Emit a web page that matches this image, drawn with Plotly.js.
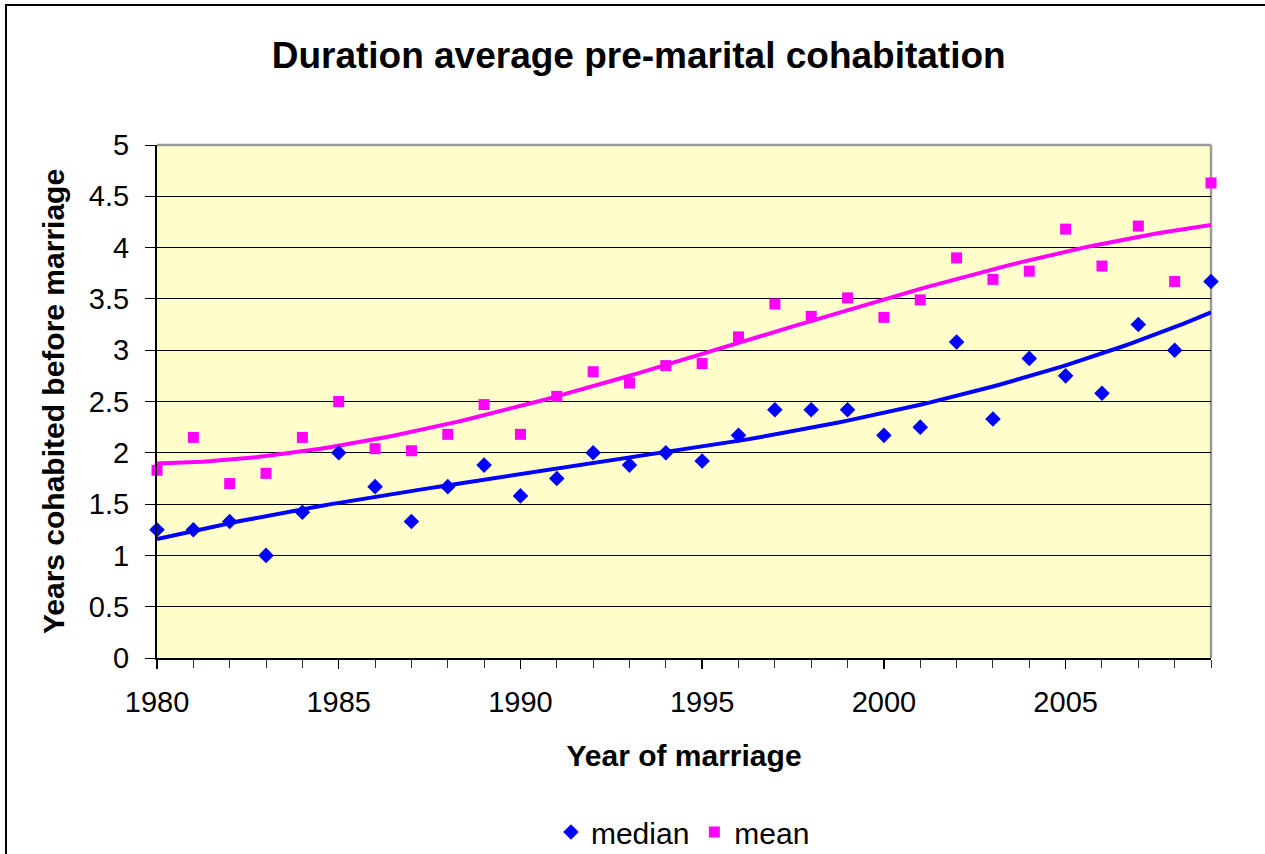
<!DOCTYPE html>
<html>
<head>
<meta charset="utf-8">
<script src="https://cdn.plot.ly/plotly-3.0.1.min.js"></script>
<style>
  html, body { margin: 0; padding: 0; background: #fff; overflow: hidden; }
  #wrap { position: relative; width: 1265px; height: 854px; }
  #chart { width: 1265px; height: 854px; }
  #frame { position: absolute; left: 5px; top: 4px; width: 1270px; height: 900px;
           border-left: 2px solid #000; border-top: 2px solid #000; pointer-events: none; }
</style>
</head>
<body>
<div id="wrap">
  <div id="chart"></div>
  <div id="frame"></div>
</div>
<script>
// ---- data ----
const years = [1980,1981,1982,1983,1984,1985,1986,1987,1988,1989,
               1990,1991,1992,1993,1994,1995,1996,1997,1998,1999,
               2000,2001,2002,2003,2004,2005,2006,2007,2008,2009];
const median = [1.25,1.25,1.33,1.00,1.42,2.00,1.67,1.33,1.67,1.88,
                1.58,1.75,2.00,1.88,2.00,1.92,2.17,2.42,2.42,2.42,
                2.17,2.25,3.08,2.33,2.92,2.75,2.58,3.25,3.00,3.67];
const mean = [1.83,2.15,1.70,1.80,2.15,2.50,2.04,2.02,2.18,2.47,
              2.18,2.55,2.79,2.68,2.85,2.87,3.13,3.45,3.33,3.51,
              3.32,3.49,3.90,3.69,3.77,4.18,3.82,4.21,3.67,4.63];
const seriesNames = ["median", "mean"];
const xTickLabels = ["1980","1985","1990","1995","2000","2005"];
const yTickLabels = ["0","0.5","1","1.5","2","2.5","3","3.5","4","4.5","5"];

// ---- polynomial (order 3) trendline, as in the spreadsheet chart ----
function polyfit(xs, ys, order) {
  const n = order + 1, x0 = xs[0];
  const A = [];
  for (let r = 0; r < n; r++) A.push(new Array(n + 1).fill(0));
  for (let i = 0; i < xs.length; i++) {
    const t = (xs[i] - x0) / 10;
    for (let r = 0; r < n; r++) {
      for (let c = 0; c < n; c++) A[r][c] += Math.pow(t, r + c);
      A[r][n] += Math.pow(t, r) * ys[i];
    }
  }
  for (let c = 0; c < n; c++) {
    for (let r = c + 1; r < n; r++) {
      const f = A[r][c] / A[c][c];
      for (let k = c; k <= n; k++) A[r][k] -= f * A[c][k];
    }
  }
  const b = new Array(n).fill(0);
  for (let r = n - 1; r >= 0; r--) {
    let s = A[r][n];
    for (let k = r + 1; k < n; k++) s -= A[r][k] * b[k];
    b[r] = s / A[r][r];
  }
  return x => { const t = (x - x0) / 10; let v = 0; for (let k = n - 1; k >= 0; k--) v = v * t + b[k]; return v; };
}
function trend(xs, ys) {
  const f = polyfit(xs, ys, 3);
  const tx = [], ty = [];
  for (let i = 0; i < xs.length - 1; i++) {
    for (let s = 0; s < 4; s++) { const t = xs[i] + s / 4; tx.push(t); ty.push(f(t)); }
  }
  tx.push(xs[xs.length - 1]); ty.push(f(xs[xs.length - 1]));
  return {x: tx, y: ty};
}

const blue = "#0000FF", pink = "#FF00FF";
const FONT = "Arial, 'Liberation Sans', sans-serif";
const tMed = trend(years, median), tMean = trend(years, mean);

const traces = [
  {x: tMed.x, y: tMed.y, mode: "lines", line: {color: blue, width: 4},
   showlegend: false, hoverinfo: "skip"},
  {x: tMean.x, y: tMean.y, mode: "lines", line: {color: pink, width: 4},
   showlegend: false, hoverinfo: "skip"},
  {x: years, y: median, name: seriesNames[0], mode: "markers", cliponaxis: false,
   marker: {symbol: "diamond", size: 12, color: blue}},
  {x: years, y: mean, name: seriesNames[1], mode: "markers", cliponaxis: false,
   marker: {symbol: "square", size: 11, color: pink}}
];

const layout = {
  width: 1265, height: 854,
  margin: {l: 157, r: 54, t: 145, b: 196, autoexpand: false},
  paper_bgcolor: "#FFFFFF",
  plot_bgcolor: "#FFFFCC",
  font: {family: FONT, color: "#000"},
  title: {text: "<b>Duration average pre-marital cohabitation</b>",
          font: {family: FONT, size: 37, color: "#000"},
          x: 0.457, xanchor: "center", xref: "paper",
          y: 1 - 55 / 854, yanchor: "middle", yref: "container"},
  xaxis: {
    range: [1980, 2009],
    automargin: false,
    tickmode: "array",
    tickvals: xTickLabels.map(Number),
    ticktext: xTickLabels,
    ticks: "outside", ticklen: 9, tickwidth: 1.5, tickcolor: "#000",
    minor: {dtick: 1, tick0: 1980, ticks: "outside", ticklen: 8, tickwidth: 1, tickcolor: "#333", showgrid: false},
    showgrid: false, zeroline: false,
    showline: true, linecolor: "#000", linewidth: 2,
    tickfont: {family: FONT, size: 29, color: "#000"},
    ticklabelstandoff: 8,
    title: {text: "<b>Year of marriage</b>", font: {family: FONT, size: 30, color: "#000"}, standoff: 28}
  },
  yaxis: {
    range: [0, 5],
    automargin: false,
    tickmode: "array",
    tickvals: yTickLabels.map(Number),
    ticktext: yTickLabels,
    ticks: "outside", ticklen: 10, tickwidth: 1, tickcolor: "#000",
    showgrid: true, gridcolor: "#000", gridwidth: 1,
    zeroline: false,
    showline: true, linecolor: "#000", linewidth: 2,
    tickfont: {family: FONT, size: 29, color: "#000"},
    ticklabelstandoff: 10,
    title: {text: "<b>Years cohabited before marriage</b>", font: {family: FONT, size: 30, color: "#000"}, standoff: 15}
  },
  shapes: [
    {type: "line", xref: "paper", yref: "paper", x0: 0, x1: 1, y0: 1, y1: 1,
     line: {color: "#999999", width: 2.5}, layer: "between"},
    {type: "line", xref: "paper", yref: "paper", x0: 1, x1: 1, y0: 0, y1: 1,
     line: {color: "#999999", width: 2.5}, layer: "between"}
  ],
  legend: {orientation: "h", x: 0.499, xanchor: "center", y: (658 - 832) / 513, yanchor: "middle",
           font: {family: FONT, size: 30, color: "#000"}, bgcolor: "rgba(0,0,0,0)",
           itemwidth: 30, tracegroupgap: 0},
  showlegend: true
};

Plotly.newPlot("chart", traces, layout, {staticPlot: true, displayModeBar: false});
</script>
</body>
</html>
